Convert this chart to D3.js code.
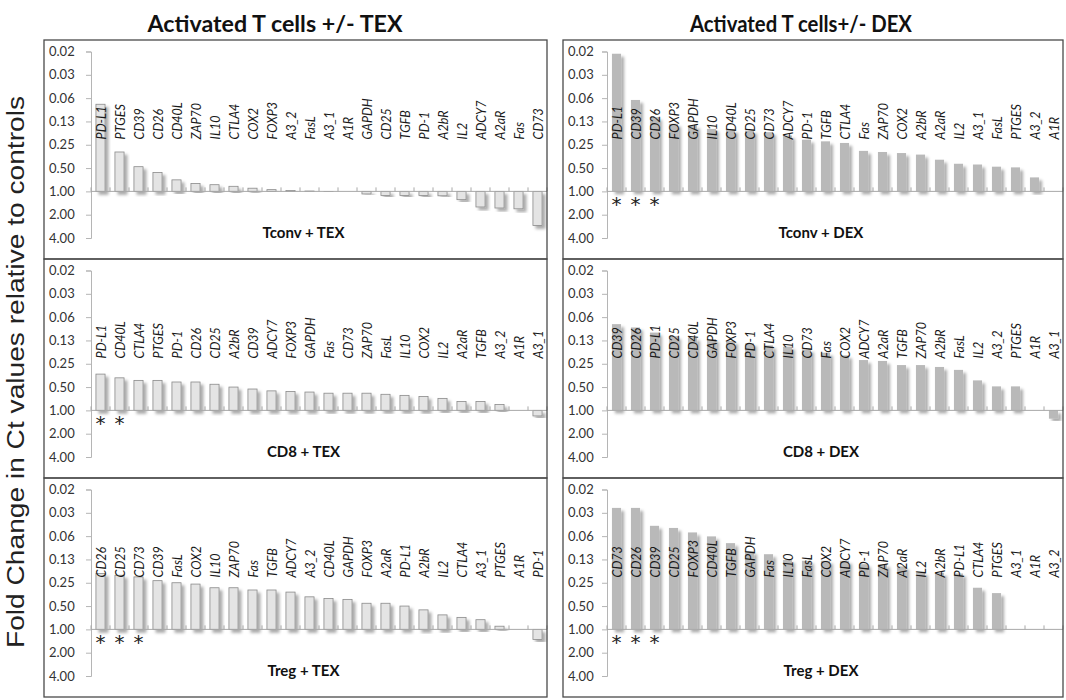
<!DOCTYPE html>
<html><head><meta charset="utf-8">
<script src="https://cdn.jsdelivr.net/npm/d3@7"></script>
<style>body{margin:0;background:#fff} svg{display:block}</style>
</head><body><svg id="c" width="1066" height="700"></svg>
<script>
// ---- data ----
const yTicks = [0.015625, 0.03125, 0.0625, 0.125, 0.25, 0.5, 1, 2, 4];
const yTickLabels = ["0.02","0.03","0.06","0.13","0.25","0.50","1.00","2.00","4.00"];
const columnTitles = ["Activated T cells +/- TEX", "Activated T cells+/- DEX"];
const yAxisTitle = "Fold Change in Ct values relative to controls";

const tconvTexGenes = ["PD-L1","PTGES","CD39","CD26","CD40L","ZAP70","IL10","CTLA4","COX2","FOXP3","A3_2","FasL","A3_1","A1R","GAPDH","CD25","TGFB","PD-1","A2bR","IL2","ADCY7","A2aR","Fas","CD73"];
const tconvTexValues = [0.075,0.31,0.48,0.57,0.71,0.79,0.82,0.86,0.91,0.95,0.97,0.99,0.995,1.0,1.08,1.13,1.13,1.13,1.14,1.28,1.59,1.64,1.68,2.76];
const tconvTexStars = [];

const tconvDexGenes = ["PD-L1","CD39","CD26","FOXP3","GAPDH","IL10","CD40L","CD25","CD73","ADCY7","PD-1","TGFB","CTLA4","Fas","ZAP70","COX2","A2bR","A2aR","IL2","A3_1","FasL","PTGES","A3_2","A1R"];
const tconvDexValues = [0.0167,0.066,0.11,0.134,0.141,0.156,0.16,0.164,0.172,0.19,0.215,0.226,0.237,0.30,0.31,0.32,0.335,0.39,0.44,0.45,0.48,0.49,0.66,1.0];
const tconvDexStars = ["PD-L1","CD39","CD26"];

const cd8TexGenes = ["PD-L1","CD40L","CTLA4","PTGES","PD-1","CD26","CD25","A2bR","CD39","ADCY7","FOXP3","GAPDH","Fas","CD73","ZAP70","FasL","IL10","COX2","IL2","A2aR","TGFB","A3_2","A1R","A3_1"];
const cd8TexValues = [0.34,0.38,0.41,0.41,0.43,0.43,0.46,0.50,0.53,0.56,0.57,0.58,0.60,0.60,0.60,0.62,0.64,0.66,0.70,0.77,0.77,0.84,1.0,1.18];
const cd8TexStars = ["PD-L1","CD40L"];

const cd8DexGenes = ["CD39","CD26","PD-L1","CD25","CD40L","GAPDH","FOXP3","PD-1","CTLA4","IL10","CD73","Fas","COX2","ADCY7","A2aR","TGFB","ZAP70","A2bR","FasL","IL2","A3_2","PTGES","A1R","A3_1"];
const cd8DexValues = [0.077,0.085,0.099,0.11,0.115,0.12,0.127,0.136,0.145,0.15,0.163,0.18,0.195,0.224,0.23,0.26,0.26,0.275,0.30,0.41,0.49,0.49,1.0,1.28];
const cd8DexStars = [];

const tregTexGenes = ["CD26","CD25","CD73","CD39","FasL","COX2","IL10","ZAP70","Fas","TGFB","ADCY7","A3_2","CD40L","GAPDH","FOXP3","A2aR","PD-L1","A2bR","IL2","CTLA4","A3_1","PTGES","A1R","PD-1"];
const tregTexValues = [0.19,0.20,0.21,0.235,0.25,0.26,0.29,0.29,0.31,0.31,0.33,0.38,0.40,0.41,0.46,0.46,0.50,0.56,0.65,0.70,0.75,0.91,1.0,1.35];
const tregTexStars = ["CD26","CD25","CD73"];

const tregDexGenes = ["CD73","CD26","CD39","CD25","FOXP3","CD40L","TGFB","GAPDH","Fas","IL10","FasL","COX2","ADCY7","PD-1","ZAP70","A2aR","IL2","A2bR","PD-L1","CTLA4","PTGES","A3_1","A1R","A3_2"];
const tregDexValues = [0.027,0.027,0.046,0.049,0.056,0.063,0.077,0.098,0.107,0.127,0.13,0.13,0.13,0.144,0.144,0.154,0.183,0.186,0.19,0.29,0.34,1.0,1.0,1.0];
const tregDexStars = ["CD73","CD26","CD39"];

const panelTitles = ["Tconv + TEX","Tconv + DEX","CD8 + TEX","CD8 + DEX","Treg + TEX","Treg + DEX"];

// ---- layout ----
const svg = d3.select("#c");
const defs = svg.append("defs");
const f = defs.append("filter").attr("id","sh").attr("x","-60%").attr("y","-20%").attr("width","220%").attr("height","140%");
f.append("feDropShadow").attr("dx",3).attr("dy",3).attr("stdDeviation",1.8).attr("flood-color","#000").attr("flood-opacity",0.33);

const colX = [44, 563];
const colW = [503, 500];
const rowY = [40, 259, 478];
const rowH = [219, 219, 219];

const panels = [
  {genes:tconvTexGenes, values:tconvTexValues, stars:tconvTexStars, col:0,row:0, dex:false},
  {genes:tconvDexGenes, values:tconvDexValues, stars:tconvDexStars, col:1,row:0, dex:true},
  {genes:cd8TexGenes, values:cd8TexValues, stars:cd8TexStars, col:0,row:1, dex:false},
  {genes:cd8DexGenes, values:cd8DexValues, stars:cd8DexStars, col:1,row:1, dex:true},
  {genes:tregTexGenes, values:tregTexValues, stars:tregTexStars, col:0,row:2, dex:false},
  {genes:tregDexGenes, values:tregDexValues, stars:tregDexStars, col:1,row:2, dex:true},
];

const FONT = "Lato, 'Open Sans', sans-serif";

panels.forEach((p,i)=>{
  const x0 = colX[p.col], y0 = rowY[p.row], w = colW[p.col], h = rowH[p.row];
  const g = svg.append("g");
  const axisX = p.col === 0 ? 91 : 607;
  const span = 456;
  const y = d3.scaleLog().base(2).domain([yTicks[0], yTicks[yTicks.length-1]]).range([y0+11.5, y0+198]);
  const x = d3.scaleBand().domain(p.genes).range([axisX, axisX+span]).paddingInner(0.52).paddingOuter(0.26);
  const base = y(1);

  // y axis
  const ax = d3.axisLeft(y).tickValues(yTicks).tickFormat((d,k)=>yTickLabels[k]).tickSize(5).tickPadding(0);
  const ag = g.append("g").attr("transform",`translate(${axisX},0)`).call(ax);
  ag.select(".domain").attr("stroke","#b5b5b5");
  ag.selectAll(".tick line").attr("stroke","#b5b5b5");
  ag.selectAll(".tick text").attr("x", x0+5-axisX).attr("text-anchor","start")
    .attr("font-family",FONT).attr("font-size",13).attr("fill","#333");

  // bars
  g.append("g").selectAll("rect").data(p.genes).join("rect")
    .attr("x", d=>x(d))
    .attr("width", x.bandwidth())
    .attr("y", (d,k)=> Math.min(y(p.values[k]), base))
    .attr("height", (d,k)=> Math.abs(y(p.values[k]) - base))
    .attr("fill", p.dex ? "#b9b9b9" : "#e4e4e4")
    .attr("stroke", p.dex ? "none" : "#8a8a8a")
    .attr("stroke-width", 0.8)
    .attr("filter","url(#sh)");

  // baseline with category ticks
  g.append("line").attr("x1",axisX).attr("x2",axisX+span).attr("y1",base).attr("y2",base).attr("stroke","#a8a8a8");
  g.append("g").selectAll("line").data(d3.range(p.genes.length+1)).join("line")
    .attr("x1", k=>axisX + k*span/p.genes.length).attr("x2", k=>axisX + k*span/p.genes.length)
    .attr("y1", base-4).attr("y2", base).attr("stroke","#a8a8a8");

  // category labels
  g.append("g").selectAll("text").data(p.genes).join("text")
    .attr("transform", d=>`translate(${x(d)+x.bandwidth()/2+1},${base-52}) rotate(-90)`)
    .attr("dy","0.35em")
    .attr("font-family",FONT).attr("font-style","italic").attr("font-size",12.5).attr("fill","#1a1a1a")
    .text(d=>d);

  // stars
  g.append("g").selectAll("text").data(p.stars).join("text")
    .attr("x", d=>x(d)+x.bandwidth()/2).attr("y", base+20)
    .attr("text-anchor","middle").attr("font-family","'DejaVu Sans', sans-serif").attr("font-size",20).attr("fill","#222")
    .text("*");

  // panel title
  g.append("text").attr("x", x0 + w/2 + 8).attr("y", y0+198)
    .attr("text-anchor","middle").attr("font-family",FONT).attr("font-weight","bold").attr("font-size",15).attr("fill","#111")
    .text(panelTitles[i]);

  // border
  g.append("rect").attr("x",x0).attr("y",y0).attr("width",w).attr("height",h)
    .attr("fill","none").attr("stroke","#4a4a4a").attr("stroke-width",1.3);
});

// column titles
const titleCx = [275, 801];
columnTitles.forEach((t,k)=>{
  svg.append("text").attr("x",titleCx[k]).attr("y",32).attr("text-anchor","middle")
    .attr("font-family",FONT).attr("font-weight","bold").attr("font-size",23).attr("fill","#111")
    .attr("textLength", k===0?255:222).attr("lengthAdjust","spacingAndGlyphs")
    .text(t);
});

// y axis title
svg.append("text").attr("transform","translate(24,372) rotate(-90)").attr("text-anchor","middle")
  .attr("font-family","'Liberation Sans', Arial, sans-serif").attr("font-size",23).attr("fill","#222")
  .attr("textLength",552).attr("lengthAdjust","spacingAndGlyphs")
  .text(yAxisTitle);
</script></body></html>
